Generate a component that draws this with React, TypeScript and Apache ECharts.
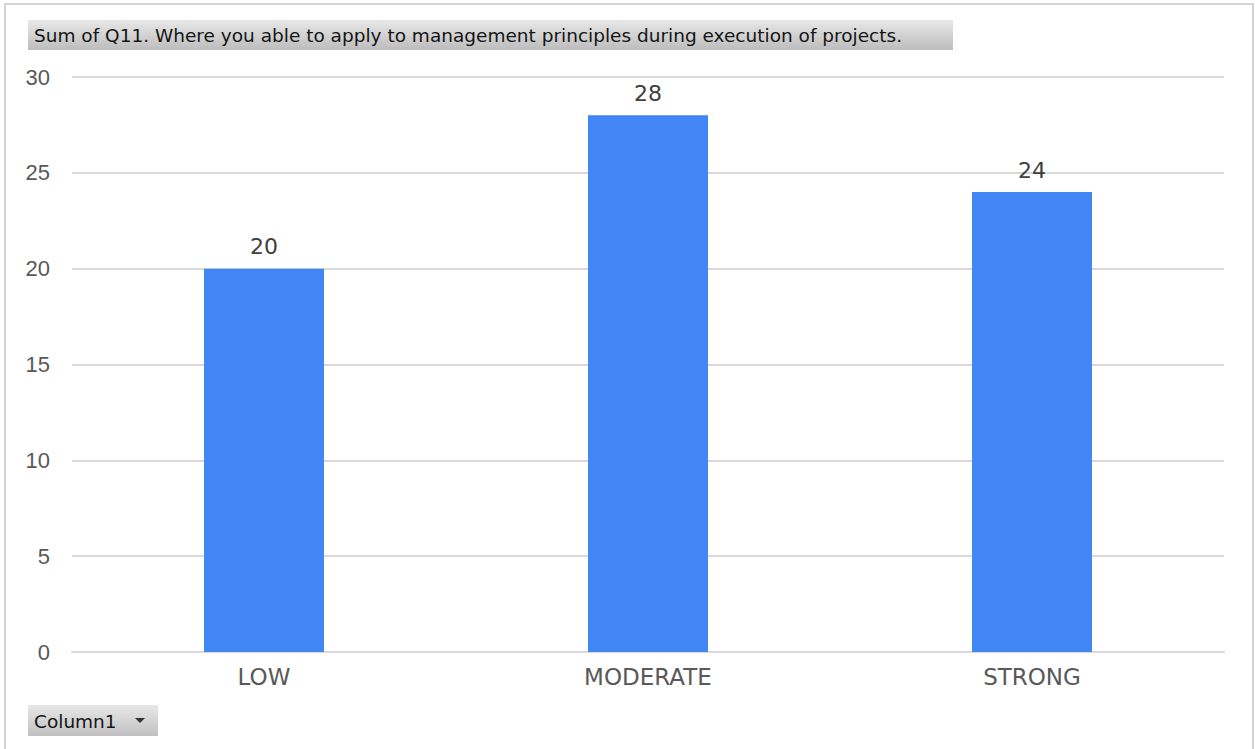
import React, { useEffect, useRef } from "react";
import * as echarts from "echarts";

const categories = ["LOW", "MODERATE", "STRONG"];
const values = [20, 28, 24];
const titleText = "Sum of Q11. Where you able to apply to management principles during execution of projects.";
const buttonText = "Column1";

export default function App() {
  const ref = useRef<HTMLDivElement>(null);
  useEffect(() => {
    const chart = echarts.init(ref.current!, null, { renderer: "svg" });
    chart.setOption({
      animation: false,
      backgroundColor: "#ffffff",
      grid: { left: 72, right: 31, top: 77, bottom: 97 },
      xAxis: {
        type: "category",
        data: categories,
        axisLine: { lineStyle: { color: "#d9d9d9", width: 2 } },
        axisTick: { show: false },
        axisLabel: { color: "#595959", fontFamily: "DejaVu Sans", fontSize: 23, margin: 13 },
      },
      yAxis: {
        type: "value",
        min: 0,
        max: 30,
        interval: 5,
        axisLine: { show: false },
        axisTick: { show: false },
        splitLine: { lineStyle: { color: "#d9d9d9", width: 2 } },
        axisLabel: { color: "#595959", fontFamily: "'Liberation Sans', Arial", fontSize: 22, margin: 22 },
      },
      series: [
        {
          type: "bar",
          data: values,
          barWidth: 120,
          itemStyle: { color: "#4285f4" },
          label: {
            show: true,
            position: "top",
            distance: 11,
            color: "#404040",
            fontFamily: "DejaVu Sans",
            fontSize: 22,
          },
        },
      ],
      graphic: [
        {
          type: "rect",
          shape: { x: 5, y: 4, width: 1248, height: 760 },
          style: { fill: "none", stroke: "#d4d4d4", lineWidth: 2 },
          silent: true,
        },
        {
          type: "rect",
          shape: { x: 28, y: 20, width: 925, height: 30 },
          style: {
            fill: new echarts.graphic.LinearGradient(0, 0, 0, 1, [
              { offset: 0, color: "#e8e8e8" },
              { offset: 1, color: "#bdbdbd" },
            ]),
          },
        },
        {
          type: "text",
          x: 34,
          y: 35,
          style: {
            text: titleText,
            fill: "#151515",
            font: "18.5px 'DejaVu Sans', Verdana, sans-serif",
            verticalAlign: "middle",
          },
        },
        {
          type: "rect",
          shape: { x: 28, y: 705, width: 130, height: 31 },
          style: {
            fill: new echarts.graphic.LinearGradient(0, 0, 0, 1, [
              { offset: 0, color: "#e8e8e8" },
              { offset: 1, color: "#c0c0c0" },
            ]),
          },
        },
        {
          type: "text",
          x: 34,
          y: 721,
          style: {
            text: buttonText,
            fill: "#151515",
            font: "18.5px 'DejaVu Sans', Verdana, sans-serif",
            verticalAlign: "middle",
          },
        },
        {
          type: "polygon",
          shape: { points: [[135, 718], [145, 718], [140, 723]] },
          style: { fill: "#333333" },
        },
      ],
    });
    return () => chart.dispose();
  }, []);
  return (
    <div
      ref={ref}
      style={{ position: "fixed", left: 0, top: 0, width: 1255, height: 749 }}
    />
  );
}
